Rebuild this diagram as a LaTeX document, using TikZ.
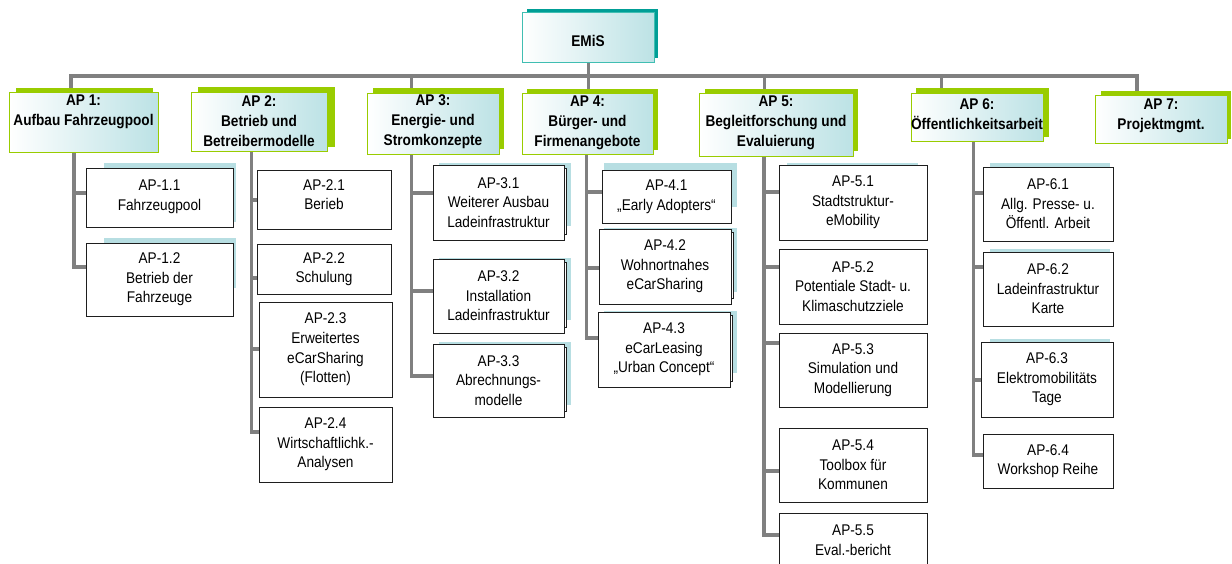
\documentclass[tikz,border=0pt]{standalone}
\usepackage{fontspec}
\setmainfont{Liberation Sans}[FakeStretch=0.88]
\usetikzlibrary{backgrounds}
\definecolor{apgreen}{RGB}{153,204,0}
\definecolor{tealfill}{RGB}{188,226,229}
\definecolor{emisborder}{RGB}{64,190,178}
\definecolor{emisshadow}{RGB}{0,158,150}
\definecolor{linegray}{RGB}{128,128,128}
\definecolor{subshadow}{RGB}{183,222,226}
\definecolor{subborder}{RGB}{30,30,30}
\tikzset{
  ttl/.style={draw=apgreen, line width=0.9pt, left color=white, right color=tealfill},
  emis/.style={draw=emisborder, line width=0.9pt, left color=white, right color=tealfill},
  sub/.style={draw=subborder, line width=0.9pt, fill=white},
  ttltxt/.style={font=\bfseries\fontsize{15.5}{20}\selectfont, align=center, inner sep=0pt},
  emistxt/.style={font=\bfseries\fontsize{15.5}{20}\selectfont, align=center, inner sep=0pt},
  subtxt/.style={font=\fontsize{15.5}{19.6}\selectfont, align=center, inner sep=0pt},
  spine/.style={draw=linegray, line width=3.5pt},
  stem/.style={draw=linegray, line width=3pt},
  greenshd/.style={fill=apgreen},
  tealshd/.style={fill=subshadow},
  backbox/.style={draw=subborder, line width=0.8pt, fill=white},
}
% style, name, x1, y1, x2, y2, text yshift, text
\newcommand\mybox[8]{%
  \node[#1, minimum width={(#5-#3)*1pt}, minimum height={(#6-#4)*1pt}, inner sep=0pt, outer sep=0pt,
    label={[name=#2-t, #1txt, yshift=#7pt]center:{#8}}] (#2) at ({(#3+#5)/2},{(#4+#6)/2}) {};}
\begin{document}
\begin{tikzpicture}[x=1pt, y=-1pt]
\useasboundingbox (0,0) rectangle (1232,563);
\clip (0,0) rectangle (1232,563);
% ---------- top level boxes ----------
\mybox{emis}{emis}{522}{12}{654}{62}{-4}{EMiS}
\mybox{ttl}{ap1}{9}{92}{158}{152}{10}{AP 1:\\Aufbau Fahrzeugpool}
\mybox{ttl}{ap2}{191}{92}{327}{151}{0}{AP 2:\\Betrieb und\\Betreibermodelle}
\mybox{ttl}{ap3}{367}{93}{499}{154}{2}{AP 3:\\Energie- und\\Stromkonzepte}
\mybox{ttl}{ap4}{522}{93}{653}{154}{1}{AP 4:\\Bürger- und\\Firmenangebote}
\mybox{ttl}{ap5}{699}{93}{853}{156}{2}{AP 5:\\Begleitforschung und\\Evaluierung}
\mybox{ttl}{ap6}{911}{93}{1043}{141}{3}{AP 6:\\Öffentlichkeitsarbeit}
\mybox{ttl}{ap7}{1095}{95}{1227}{143}{3}{AP 7:\\Projektmgmt.}
% ---------- sub boxes ----------
\mybox{sub}{s11}{86}{168}{233}{227}{1}{AP-1.1\\Fahrzeugpool}
\mybox{sub}{s12}{86}{243}{233}{316}{0}{AP-1.2\\Betrieb der\\Fahrzeuge}
\mybox{sub}{s21}{257}{170}{391}{229}{5}{AP-2.1\\Berieb}
\mybox{sub}{s22}{257}{244}{391}{294}{0}{AP-2.2\\Schulung}
\mybox{sub}{s23}{259}{302}{392}{397}{0}{AP-2.3\\Erweitertes\\eCarSharing\\(Flotten)}
\mybox{sub}{s24}{259}{407}{392}{482}{0}{AP-2.4\\Wirtschaftlichk.-\\Analysen}
\mybox{sub}{s31}{433}{165}{564}{240}{0}{AP-3.1\\Weiterer Ausbau\\Ladeinfrastruktur}
\mybox{sub}{s32}{433}{259}{564}{333}{0}{AP-3.2\\Installation\\Ladeinfrastruktur}
\mybox{sub}{s33}{433}{344}{564}{417}{0}{AP-3.3\\Abrechnungs-\\modelle}
\mybox{sub}{s41}{602}{170}{731}{223}{0}{AP-4.1\\„Early Adopters“}
\mybox{sub}{s42}{599}{229}{731}{304}{0}{AP-4.2\\Wohnortnahes\\eCarSharing}
\mybox{sub}{s43}{598}{312}{730}{387}{0}{AP-4.3\\eCarLeasing\\„Urban Concept“}
\mybox{sub}{s51}{779}{165}{927}{240}{0}{AP-5.1\\Stadtstruktur-\\eMobility}
\mybox{sub}{s52}{779}{249}{927}{324}{0}{AP-5.2\\Potentiale Stadt- u.\\Klimaschutzziele}
\mybox{sub}{s53}{779}{333}{927}{407}{0}{AP-5.3\\Simulation und\\Modellierung}
\mybox{sub}{s54}{779}{428}{927}{502}{0}{AP-5.4\\Toolbox für\\Kommunen}
\mybox{sub}{s55}{779}{513}{927}{568}{0}{AP-5.5\\Eval.-bericht}
\mybox{sub}{s61}{983}{167}{1113}{241}{0}{AP-6.1\\Allg. Presse- u.\\Öffentl. Arbeit}
\mybox{sub}{s62}{983}{252}{1113}{326}{0}{AP-6.2\\Ladeinfrastruktur\\Karte}
\mybox{sub}{s63}{981}{342}{1113}{417}{0}{AP-6.3\\Elektromobilitäts\\Tage}
\mybox{sub}{s64}{983}{434}{1113}{488}{0}{AP-6.4\\Workshop Reihe}
\begin{pgfonlayer}{background}
% ---------- connectors ----------
\draw[stem] (emis.south) -- (emis.south |- 0,76);
\draw[spine] (ap1.north -| 71,0) -- (71,76) -- (1137,76) -- (ap7.north -| 1137,0);
\draw[stem] (411,76) -- (ap3.north -| 411,0);
\draw[stem] (588,76) -- (ap4.north -| 588,0);
\draw[stem] (764,76) -- (ap5.north -| 764,0);
\draw[stem] (941,76) -- (ap6.north -| 941,0);
% AP1
\draw[spine] (ap1.south -| 74,0) -- (74,267) -- (s12.west |- 0,267);
\draw[spine] (74,193) -- (s11.west |- 0,193);
% AP2
\draw[spine] (ap2.south -| 251.5,0) -- (251.5,432) -- (s24.west |- 0,432);
\draw[spine] (251.5,200) -- (s21.west |- 0,200);
\draw[spine] (251.5,278) -- (s22.west |- 0,278);
\draw[spine] (251.5,349) -- (s23.west |- 0,349);
% AP3
\draw[spine] (ap3.south -| 411.7,0) -- (411.7,376) -- (s33.west |- 0,376);
\draw[spine] (411.7,193) -- (s31.west |- 0,193);
\draw[spine] (411.7,291) -- (s32.west |- 0,291);
% AP4
\draw[spine] (ap4.south -| 586.7,0) -- (586.7,338) -- (s43.west |- 0,338);
\draw[spine] (586.7,192) -- (s41.west |- 0,192);
\draw[spine] (586.7,268) -- (s42.west |- 0,268);
% AP5
\draw[spine] (ap5.south -| 764,0) -- (764,535) -- (s55.west |- 0,535);
\draw[spine] (764,192) -- (s51.west |- 0,192);
\draw[spine] (764,267) -- (s52.west |- 0,267);
\draw[spine] (764,343) -- (s53.west |- 0,343);
\draw[spine] (764,471) -- (s54.west |- 0,471);
% AP6
\draw[spine] (ap6.south -| 973.3,0) -- (973.3,455) -- (s64.west |- 0,455);
\draw[spine] (973.3,193) -- (s61.west |- 0,193);
\draw[spine] (973.3,267) -- (s62.west |- 0,267);
\draw[spine] (973.3,380) -- (s63.west |- 0,380);
% ---------- shadows of top level ----------
\fill[emisshadow] (527,9) rectangle (658,58);
\fill[greenshd] (16,88) rectangle (153,148);
\fill[greenshd] (198,87) rectangle (335,147);
\fill[greenshd] (373,88) rectangle (504,149);
\fill[greenshd] (527,89) rectangle (658,150);
\fill[greenshd] (705,89) rectangle (858,151);
\fill[greenshd] (916,88) rectangle (1049,137);
\fill[greenshd] (1101,91) rectangle (1231,139);
% ---------- sub box shadows ----------
\fill[tealshd] (104,163) rectangle (236,222);
\fill[tealshd] (104,238) rectangle (236,288);
\fill[tealshd] (439,163) rectangle (571,226);
\fill[tealshd] (439,258) rectangle (571,320);
\fill[tealshd] (439,342) rectangle (571,405);
\fill[tealshd] (604,163) rectangle (737,207);
\fill[tealshd] (604,228) rectangle (737,292);
\fill[tealshd] (604,311) rectangle (737,373);
\fill[tealshd] (787,163) rectangle (918,200);
\fill[tealshd] (990,163) rectangle (1110,200);
\fill[tealshd] (990,249) rectangle (1110,290);
\fill[tealshd] (990,339) rectangle (1110,380);
% ---------- back boxes (double edges) ----------
\draw[backbox] (435.5,168) rectangle (566.5,234);
\draw[backbox] (435.5,262) rectangle (566.5,327);
\draw[backbox] (435.5,347) rectangle (566.5,411);
\draw[backbox] (601.5,232) rectangle (733.5,298);
\draw[backbox] (600.5,315) rectangle (732.5,381);
\end{pgfonlayer}
\end{tikzpicture}
\end{document}
